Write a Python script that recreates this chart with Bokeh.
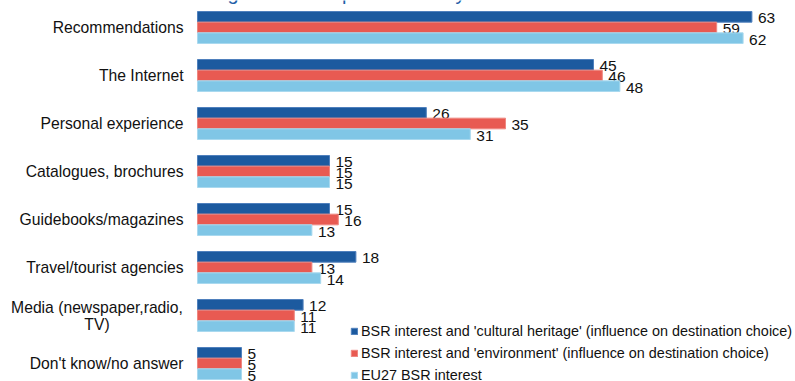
from bokeh.plotting import figure
from bokeh.models import Range1d, ColumnDataSource, Legend, LegendItem, Label
from bokeh.core.properties import value
from bokeh.embed import file_html
from bokeh.resources import INLINE

# Sources of holiday information, share of respondents (%)
categories = [
    "Recommendations",
    "The Internet",
    "Personal experience",
    "Catalogues, brochures",
    "Guidebooks/magazines",
    "Travel/tourist agencies",
    "Media (newspaper,radio,\nTV)",
    "Don't know/no answer",
]
heritage = [63, 45, 26, 15, 15, 18, 12, 5]
environment = [59, 46, 35, 15, 16, 13, 11, 5]
eu27 = [62, 48, 31, 15, 13, 14, 11, 5]

series_names = [
    "BSR interest and 'cultural heritage' (influence on destination choice)",
    "BSR interest and 'environment' (influence on destination choice)",
    "EU27 BSR interest",
]
title_text = "Using sources to plan a holiday"

colors = ["#1c5a9f", "#e85a52", "#80c6e6"]
edges = ["#4f80bd", "#ee8780", "#a9d9ef"]
FONT = "Liberation Sans"
TEXT_COLOR = "#111111"
PX_PER_UNIT = 8.8
LEFT_PX = 197
LINE_PX = 17

n = len(categories)
pos = [-i for i in range(n)]  # first category at top
bar_h = 2 / 9.0
offsets = [bar_h, 0.0, -bar_h]

p = figure(
    width=795, height=381,
    x_range=Range1d(-LEFT_PX / PX_PER_UNIT, (795 - LEFT_PX) / PX_PER_UNIT),
    y_range=Range1d(-7.375, 0.5625),
    output_backend="svg", toolbar_location=None,
    min_border_left=0, min_border_right=0, min_border_top=0, min_border_bottom=0,
)
p.outline_line_color = None
p.xgrid.visible = False
p.ygrid.visible = False
p.xaxis.visible = False
p.yaxis.visible = False
p.background_fill_color = "white"
p.border_fill_color = "white"

# Category names, right-aligned just left of the bars' zero line
single = [c for c in categories if "\n" not in c]
single_y = [v for v, c in zip(pos, categories) if "\n" not in c]
p.text(x=[0] * len(single), y=single_y, text=single, x_offset=-14,
       text_font=value(FONT), text_font_size="15.7px", text_color=TEXT_COLOR,
       text_baseline="middle", text_align="right")

# Wrapped names: each line centred under the first one
for v, c in zip(pos, categories):
    if "\n" not in c:
        continue
    lines = c.split("\n")
    for k, line in enumerate(lines):
        p.text(x=[0], y=[v], text=[line], x_offset=-100.5,
               y_offset=(k - (len(lines) - 1) / 2) * LINE_PX,
               text_font=value(FONT), text_font_size="15.7px", text_color=TEXT_COLOR,
               text_baseline="middle", text_align="center")

items = []
for vals, off, col, edge, name in zip([heritage, environment, eu27], offsets, colors, edges, series_names):
    src = ColumnDataSource(dict(y=[v + off for v in pos], x=vals, lab=[str(v) for v in vals]))
    r = p.hbar(y="y", left=0, right="x", height=bar_h, source=src,
               fill_color=col, line_color=edge, line_width=1)
    p.text(x="x", y="y", text="lab", source=src, x_offset=6, y_offset=1.5,
           text_font=value(FONT), text_font_size="15.5px", text_color=TEXT_COLOR,
           text_baseline="middle", text_align="left")
    items.append(LegendItem(label=name, renderers=[r]))

legend = Legend(
    items=items, location=(350, -4),
    label_text_font=FONT, label_text_font_size="14.4px", label_text_color=TEXT_COLOR,
    glyph_width=8, glyph_height=8, label_standoff=3, label_height=20, spacing=2,
    padding=0, margin=0, border_line_color=None, background_fill_alpha=0,
)
p.add_layout(legend, "center")

p.add_layout(Label(x=0, y=0.5625, x_offset=-10, y_offset=8, text=title_text,
                   text_font=FONT, text_font_size="20px", text_color="#1f5fa8",
                   text_baseline="alphabetic"))

open("out.html", "w").write(file_html(p, INLINE))
